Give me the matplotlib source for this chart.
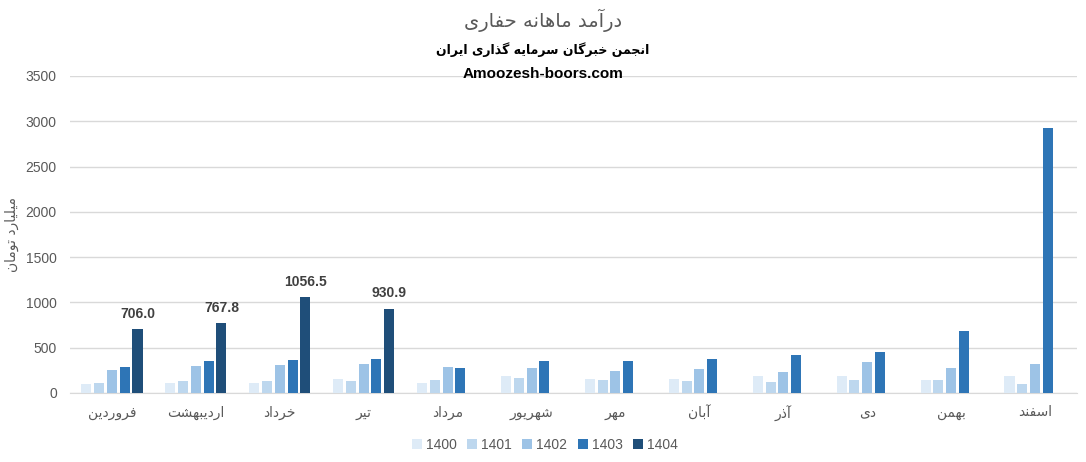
import matplotlib
matplotlib.use("Agg")
import matplotlib.pyplot as plt
import numpy as np

# ---------------- data ----------------
months = ["فروردین", "اردیبهشت", "خرداد", "تیر", "مرداد", "شهریور",
          "مهر", "آبان", "آذر", "دی", "بهمن", "اسفند"]
years = ["1400", "1401", "1402", "1403", "1404"]
v1400 = [102, 113, 113, 156, 113, 189, 156, 156, 190, 192, 148, 192]
v1401 = [113, 135, 135, 135, 145, 167, 145, 135, 125, 148, 148, 104]
v1402 = [255, 298, 309, 320, 287, 276, 244, 265, 235, 337, 281, 315]
v1403 = [287, 353, 364, 375, 276, 353, 353, 375, 422, 448, 681, 2930]
v1404 = [706.0, 767.8, 1056.5, 930.9]
series = [v1400, v1401, v1402, v1403, v1404]
colors = ["#DEEBF7", "#BDD7EE", "#9DC3E6", "#2E75B6", "#1F4E79"]

title = "درآمد ماهانه حفاری"
subtitle = "انجمن خبرگان سرمایه گذاری ایران"
site = "Amoozesh-boors.com"
ylabel = "میلیارد تومان"

# ---------------- simple Arabic/Persian shaping ----------------
FORMS = {
    "\u0627": ("\uFE8D", "\uFE8E"),
    "\u0622": ("\uFE81", "\uFE82"),
    "\u062F": ("\uFEA9", "\uFEAA"),
    "\u0630": ("\uFEAB", "\uFEAC"),
    "\u0631": ("\uFEAD", "\uFEAE"),
    "\u0632": ("\uFEAF", "\uFEB0"),
    "\u0648": ("\uFEED", "\uFEEE"),
    "\u0628": ("\uFE8F", "\uFE90", "\uFE91", "\uFE92"),
    "\u062A": ("\uFE95", "\uFE96", "\uFE97", "\uFE98"),
    "\u062C": ("\uFE9D", "\uFE9E", "\uFE9F", "\uFEA0"),
    "\u062D": ("\uFEA1", "\uFEA2", "\uFEA3", "\uFEA4"),
    "\u062E": ("\uFEA5", "\uFEA6", "\uFEA7", "\uFEA8"),
    "\u0633": ("\uFEB1", "\uFEB2", "\uFEB3", "\uFEB4"),
    "\u0634": ("\uFEB5", "\uFEB6", "\uFEB7", "\uFEB8"),
    "\u0641": ("\uFED1", "\uFED2", "\uFED3", "\uFED4"),
    "\u0644": ("\uFEDD", "\uFEDE", "\uFEDF", "\uFEE0"),
    "\u0645": ("\uFEE1", "\uFEE2", "\uFEE3", "\uFEE4"),
    "\u0646": ("\uFEE5", "\uFEE6", "\uFEE7", "\uFEE8"),
    "\u0647": ("\uFEE9", "\uFEEA", "\uFEEB", "\uFEEC"),
    "\u06CC": ("\uFBFC", "\uFBFD", "\uFBFE", "\uFBFF"),
    "\u06AF": ("\uFB92", "\uFB93", "\uFB94", "\uFB95"),
}


def shape(text):
    out = []
    n = len(text)
    for i, ch in enumerate(text):
        f = FORMS.get(ch)
        if f is None:
            out.append(ch)
            continue
        prev = text[i - 1] if i > 0 else ""
        nxt = text[i + 1] if i < n - 1 else ""
        joins_prev = prev in FORMS and len(FORMS[prev]) == 4
        joins_next = len(f) == 4 and nxt in FORMS
        if joins_prev and joins_next:
            out.append(f[3])
        elif joins_prev:
            out.append(f[1])
        elif joins_next:
            out.append(f[2])
        else:
            out.append(f[0])
    return "".join(out)[::-1]


FAM = ["DejaVu Sans"]
NUMFAM = ["Liberation Sans", "DejaVu Sans"]
plt.rcParams["font.family"] = NUMFAM

# ---------------- figure ----------------
W, H = 1086, 462
fig = plt.figure(figsize=(W / 100, H / 100), dpi=100)
ax = fig.add_axes([70 / W, 1 - 393 / H, (1077 - 70) / W, (393 - 76) / H])

x = np.arange(len(months))
pitch = 0.152
bw = 0.12
for i, (vals, c, yr) in enumerate(zip(series, colors, years)):
    xi = x[: len(vals)] + (i - 2) * pitch
    bars = ax.bar(xi, vals, width=bw, color=c, label=yr, zorder=3)
    if yr == "1404":
        for b, v in zip(bars, vals):
            ax.annotate(f"{v:.1f}", (b.get_x() + b.get_width() / 2, v),
                        xytext=(0, 6), textcoords="offset points",
                        ha="center", va="bottom", fontsize=10,
                        fontweight="bold", color="#404040",
                        family=NUMFAM)

ax.set_xlim(-0.5, len(months) - 0.5)
ax.set_ylim(0, 3500)
ax.set_yticks(np.arange(0, 3501, 500))
ax.grid(axis="y", color="#D9D9D9", linewidth=1, zorder=0)
for s in ["top", "right", "left"]:
    ax.spines[s].set_visible(False)
ax.spines["bottom"].set_color("#D9D9D9")
ax.tick_params(axis="both", length=0, colors="#595959", labelsize=10)
ax.tick_params(axis="y", pad=9.5)
ax.tick_params(axis="x", pad=9)
ax.set_xticks(x)
ax.set_xticklabels([shape(m) for m in months], family=FAM, fontsize=10,
                   color="#595959")

fig.text(12 / W, 1 - 235 / H, shape(ylabel), rotation=90, ha="center",
         va="center", fontsize=10, color="#595959", family=FAM)

fig.text(543 / W, 1 - 20 / H, shape(title), ha="center", va="center",
         fontsize=14, color="#595959", family=FAM)
fig.text(543 / W, 1 - 50 / H, shape(subtitle), ha="center", va="center",
         fontsize=9, color="black", fontweight="bold", family=FAM)
fig.text(543 / W, 1 - 74 / H, site, ha="center", va="center",
         fontsize=11, color="black", fontweight="bold", family=NUMFAM)

leg = fig.legend(loc="center", bbox_to_anchor=(545 / W, 1 - 445 / H),
                 ncol=5, frameon=False, fontsize=10, handlelength=0.7,
                 handleheight=0.7, handletextpad=0.3, columnspacing=0.75)
for t in leg.get_texts():
    t.set_color("#595959")

fig.savefig("out.png", dpi=100, facecolor="white")
